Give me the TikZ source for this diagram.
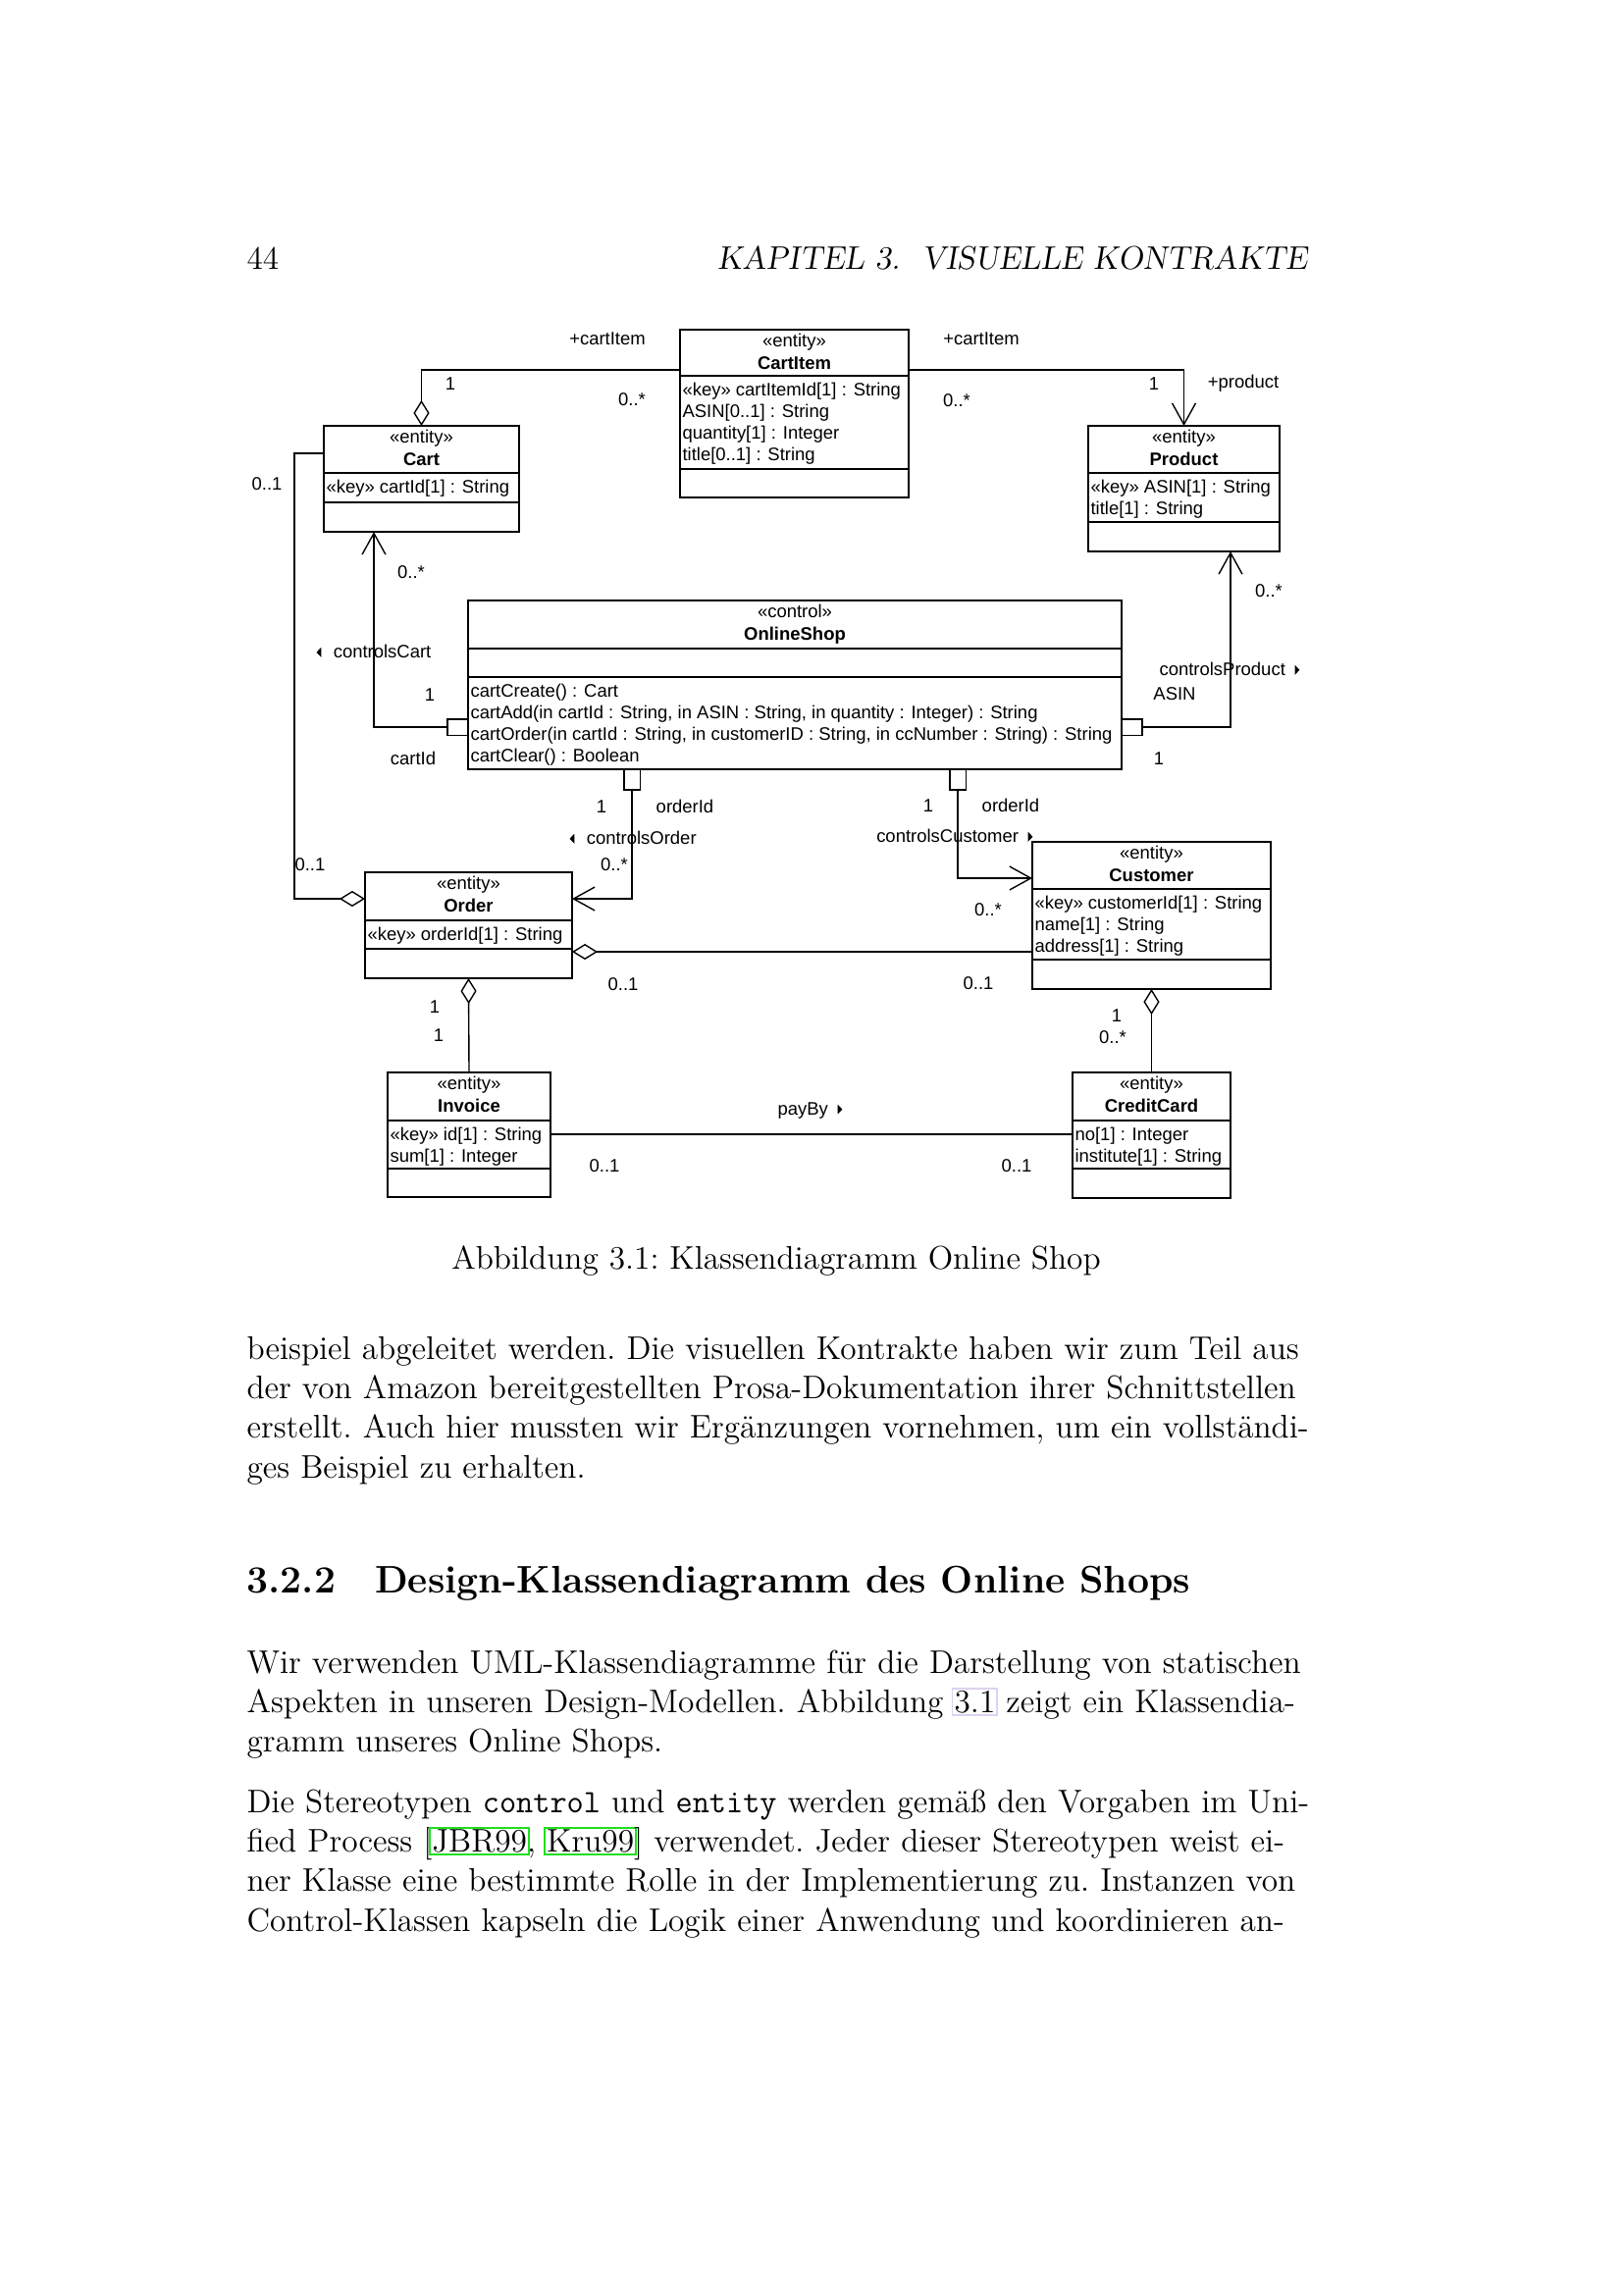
\documentclass[tikz,border=0pt]{standalone}
\usepackage{fontspec}
\usepackage{tikz}
\usetikzlibrary{arrows.meta, positioning, calc}
\newfontfamily\umlfont{Liberation Sans}
\definecolor{linkpurple}{HTML}{DDD2F2}
\definecolor{citegreen}{HTML}{1EE01E}

\newcommand{\umlclass}[9]{%
  \node[classbox, minimum width={#3*0.36pt}, minimum height={#4*0.36pt}] (#1) at #2 {};
  \draw[sepline] ($(#1.north west)+(0,#5)$) -- ($(#1.north east)+(0,#5)$);
  \draw[sepline] ($(#1.north west)+(0,#6)$) -- ($(#1.north east)+(0,#6)$);
  \node[stereo] (#1-stereo) at ($(#1.north)+(0,17)$) {«#7»};
  \node[cname] (#1-name) at ($(#1.north)+(0,40)$) {#8};
  \node[members] (#1-attrs) at ($(#1.north west)+(2,#5)$) {\rule{0pt}{7.2pt}#9};
}
\newcommand{\jline}[1]{\noindent\makebox[\hsize][s]{#1}\par}
\newcommand{\linkbox}[2]{{\setlength{\fboxsep}{0.4pt}\setlength{\fboxrule}{0.7pt}\kern-1.1pt\textcolor{#1}{\fbox{\textcolor{black}{#2}}}\kern-1.1pt}}
\newcommand{\lefttri}{\tikz[baseline=0pt]\fill (0pt,2.1pt) -- (1.7pt,0.3pt) -- (1.7pt,3.9pt) -- cycle;}
\newcommand{\righttri}{\tikz[baseline=0pt]\fill (1.7pt,2.1pt) -- (0pt,0.3pt) -- (0pt,3.9pt) -- cycle;}

\begin{document}
\begin{tikzpicture}[x=0.36pt, y=-0.36pt,
    classbox/.style={draw, line width=1pt, inner sep=0pt, outer sep=0pt, anchor=north west},
    sepline/.style={line width=0.8pt},
    stereo/.style={font=\umlfont\fontsize{6.65}{7.95}\selectfont, inner sep=0pt, anchor=base},
    cname/.style={font=\umlfont\bfseries\fontsize{6.65}{7.95}\selectfont, inner sep=0pt, anchor=base},
    members/.style={font=\umlfont\fontsize{6.65}{7.95}\selectfont, inner sep=0pt, anchor=north west, align=left},
    mult/.style={font=\umlfont\fontsize{6.65}{7.95}\selectfont, inner sep=0pt},
    assoc/.style={line width=0.5pt},
    nav/.style={assoc, -{Straight Barb[length=7.8pt, width=8.6pt]}},
    aggrstart/.style={assoc, {Diamond[open, length=9.4pt, width=5.8pt]}-},
    aggrend/.style={assoc, -{Diamond[open, length=9.4pt, width=5.8pt]}},
    qual/.style={draw, line width=0.7pt, inner sep=0pt, outer sep=0pt},
    pagetext/.style={font=\fontsize{12}{14.5}\selectfont\frenchspacing, inner sep=0pt},
    para/.style={pagetext, text width=390pt, align=left, anchor=north west}
]
\fill[white] (0,0) rectangle (1654,2339);

\node[pagetext, anchor=base west] (pagenum) at (251,274) {44};
\node[pagetext, anchor=base east] (runhead) at (1333,274) {\slshape KAPITEL 3.\ \ VISUELLE KONTRAKTE};

\umlclass{cart}{(330,434)}{199}{108}{48}{78}{entity}{Cart}{«key» cartId[1] : String}
\umlclass{cartitem}{(693,336)}{233}{171}{47}{142}{entity}{CartItem}{«key» cartItemId[1] : String\\ASIN[0..1] : String\\quantity[1] : Integer\\title[0..1] : String}
\umlclass{product}{(1109,434)}{195}{128}{48}{98}{entity}{Product}{«key» ASIN[1] : String\\title[1] : String}
\umlclass{shop}{(477,612)}{666}{172}{49}{78}{control}{OnlineShop}{}
\node[members] (shop-ops) at ($(shop.north west)+(2,78)$) {\rule{0pt}{7.2pt}cartCreate() : Cart\\cartAdd(in cartId : String, in ASIN : String, in quantity : Integer) : String\\cartOrder(in cartId : String, in customerID : String, in ccNumber : String) : String\\cartClear() : Boolean};
\umlclass{order}{(372,889)}{211}{108}{49}{78}{entity}{Order}{«key» orderId[1] : String}
\umlclass{customer}{(1052,858)}{243}{150}{48}{120}{entity}{Customer}{«key» customerId[1] : String\\name[1] : String\\address[1] : String}
\umlclass{invoice}{(395,1093)}{166}{127}{49}{98}{entity}{Invoice}{«key» id[1] : String\\sum[1] : Integer}
\umlclass{creditcard}{(1093,1093)}{161}{128}{49}{98}{entity}{CreditCard}{no[1] : Integer\\institute[1] : String}

\node[qual, minimum width=7.56pt, minimum height=6.1pt, anchor=east] (qcart) at ($(shop.north west)+(0,129)$) {};
\node[qual, minimum width=7.56pt, minimum height=6.1pt, anchor=west] (qprod) at ($(shop.north east)+(0,129)$) {};
\node[qual, minimum width=6.1pt, minimum height=7.56pt, anchor=north] (qorder) at ($(shop.south west)+(167,0)$) {};
\node[qual, minimum width=6.1pt, minimum height=7.56pt, anchor=north] (qcust) at ($(shop.south west)+(499,0)$) {};

\draw[aggrstart] (cart.north) |- ($(cartitem.north west)+(0,41)$);
\draw[nav] ($(cartitem.north east)+(0,41)$) -| (product.north);
\draw[aggrend] ($(cart.north west)+(0,28)$) -- ++(-30,0) |- ($(order.north west)+(0,27)$);
\draw[nav] (qcart.west) -| ($(cart.south west)+(51,0)$);
\draw[nav] (qprod.east) -| ($(product.south west)+(145,0)$);
\draw[nav] (qorder.south) |- ($(order.north east)+(0,27)$);
\draw[nav] (qcust.south) |- ($(customer.north west)+(0,37)$);
\draw[aggrend] ($(customer.north west)+(0,112)$) -- ($(order.north east)+(0,81)$);
\draw[aggrend] (invoice.north) -- (order.south);
\draw[aggrend] (creditcard.north) -- (customer.south);
\draw[assoc] ($(invoice.north east)+(0,63)$) -- ($(creditcard.north west)+(0,63)$);

\node[mult] (m-ci-l) at (619,345) {+cartItem};
\node[mult] (m-cart-1) at (459,391) {1};
\node[mult] (m-ci-n) at (644,407) {0..*};
\node[mult] (m-ci-r) at (1000,345) {+cartItem};
\node[mult] (m-ci-n2) at (975,408) {0..*};
\node[mult] (m-prod-1) at (1176,391) {1};
\node[mult] (m-prod) at (1267,391) {+product};
\node[mult] (m-cart-o) at (272,493) {0..1};
\node[mult, anchor=west] (m-order-c) at (300,881) {0..1};
\node[mult, anchor=west] (l-ctrlcart) at (322,664) {\lefttri\hspace{4.5pt}controlsCart};
\node[mult] (m-cart-n) at (419,583) {0..*};
\node[mult] (m-shop-c) at (438,708) {1};
\node[mult] (q-cartid) at (421,773) {cartId};
\node[mult, anchor=west] (l-ctrlprod) at (1181,682) {controlsProduct\hspace{3.5pt}\righttri};
\node[mult] (q-asin) at (1197,707) {ASIN};
\node[mult] (m-shop-p) at (1181,773) {1};
\node[mult] (m-prod-n) at (1293,602) {0..*};
\node[mult, anchor=west] (l-ctrlorder) at (580,854) {\lefttri\hspace{4.5pt}controlsOrder};
\node[mult] (m-shop-o) at (613,822) {1};
\node[mult] (q-orderid) at (698,822) {orderId};
\node[mult] (m-order-n) at (626,881) {0..*};
\node[mult, anchor=east] (l-ctrlcust) at (1053,852) {controlsCustomer\hspace{3.5pt}\righttri};
\node[mult] (m-shop-cu) at (946,821) {1};
\node[mult] (q-orderid2) at (1030,821) {orderId};
\node[mult] (m-cust-n) at (1007,927) {0..*};
\node[mult] (m-order-cu) at (635,1003) {0..1};
\node[mult] (m-cust-o) at (997,1002) {0..1};
\node[mult] (m-order-i) at (443,1026) {1};
\node[mult] (m-inv-o) at (447,1055) {1};
\node[mult] (m-cust-cc) at (1138,1035) {1};
\node[mult] (m-cc-n) at (1134,1057) {0..*};
\node[mult, anchor=west] (l-payby) at (792,1132) {payBy\hspace{3.5pt}\righttri};
\node[mult] (m-inv-cc) at (616,1188) {0..1};
\node[mult] (m-cc-inv) at (1036,1188) {0..1};

\node[pagetext, anchor=base] (caption) at (791,1293) {Abbildung 3.1: Klassendiagramm Online Shop};

\node[para] (par1) at (251,1357) {\jline{\rule{0pt}{10pt}beispiel abgeleitet werden. Die visuellen Kontrakte haben wir zum Teil aus}\jline{der von Amazon bereitgestellten Prosa-Dokumentation ihrer Schnittstellen}\jline{erstellt. Auch hier mussten wir Ergänzungen vornehmen, um ein vollständi-}\noindent ges Beispiel zu erhalten.};
\node[pagetext, anchor=base west, font=\fontsize{14.1}{18}\selectfont\bfseries] (sechead) at (251,1623) {3.2.2\hspace{14.4pt}Design-Klassendiagramm des Online Shops};
\node[para] (par2) at (251,1677) {\jline{\rule{0pt}{10pt}Wir verwenden UML-Klassendiagramme für die Darstellung von statischen}\jline{Aspekten in unseren Design-Modellen. Abbildung \linkbox{linkpurple}{3.1} zeigt ein Klassendia-}\noindent gramm unseres Online Shops.};
\node[para] (par3) at (251,1819) {\jline{\rule{0pt}{10pt}Die Stereotypen \texttt{control} und \texttt{entity} werden gemäß den Vorgaben im Uni-}\jline{fied Process [\linkbox{citegreen}{JBR99}, \linkbox{citegreen}{Kru99}] verwendet. Jeder dieser Stereotypen weist ei-}\jline{ner Klasse eine bestimmte Rolle in der Implementierung zu. Instanzen von}\jline{Control-Klassen kapseln die Logik einer Anwendung und koordinieren an-}};
\end{tikzpicture}
\end{document}
